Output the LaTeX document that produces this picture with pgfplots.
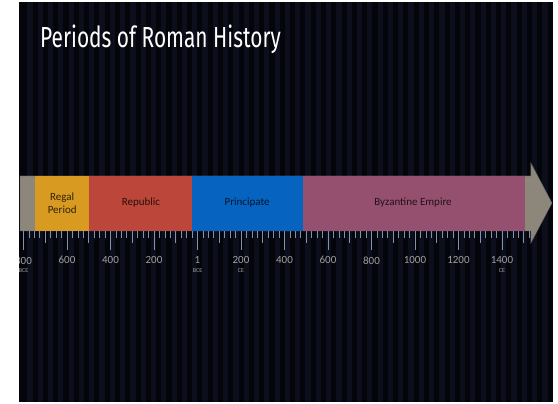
\documentclass[border=0pt]{standalone}
\usepackage{pgfplots}
\pgfplotsset{compat=1.18}
\usepackage{fontspec}
\setmainfont{Carlito}
\newfontfamily\titlefont[FakeStretch=0.72]{Fira Sans}
\definecolor{bgbase}{HTML}{04050A}
\definecolor{bgstripe}{HTML}{0C0F1B}
\definecolor{regal}{HTML}{D99A22}
\definecolor{republic}{HTML}{BC463A}
\definecolor{principate}{HTML}{0763C0}
\definecolor{byzantine}{HTML}{96506F}
\definecolor{bandgray}{HTML}{8C877A}
\definecolor{tickc}{HTML}{7E93B2}
\definecolor{labc}{HTML}{A0A0A0}
\begin{document}
\begin{tikzpicture}[x=1pt,y=1pt]
\fill[white] (0,0) rectangle (558,404);
\fill[bgbase] (18,2) rectangle (553,402);
\foreach \i in {0,...,50}{\fill[bgstripe] ({27.3+10.3*\i},2) rectangle ({32.5+10.3*\i},402);}
\begin{axis}[
  at={(0,173)}, anchor=south west,
  width=558pt, height=231pt, scale only axis,
  xmin=-908, xmax=1657.5, ymin=173, ymax=404,
  clip=false,
  axis x line*=bottom, axis y line=none,
  x axis line style={draw=none},
  tick align=outside,
  xtick={-800,-600,...,1400},
  xticklabels={{800\\[-2.5pt]{\fontsize{6}{6}\selectfont BCE}},600,400,200,{1\\[-2.5pt]{\fontsize{6}{6}\selectfont BCE}},{200\\[-2.5pt]{\fontsize{6}{6}\selectfont CE}},400,600,800,1000,1200,{1400\\[-2.5pt]{\fontsize{6}{6}\selectfont CE}}},
  minor xtick={-825,-800,...,1525},
  extra x ticks={-700,-500,...,1500},
  extra x tick labels={},
  extra x tick style={major tick length=12pt},
  major tick length=19pt,
  minor tick length=7pt,
  tick style={color=tickc, line width=0.7pt},
  xticklabel style={font=\fontsize{11}{11}\selectfont, text=labc, align=center, anchor=north, yshift=-3pt},
]
\addplot[fill=bandgray, draw=black!65] coordinates {(-816,173) (1533,173) (1533,161) (1630,201) (1533,241) (1533,228) (-816,228)} --cycle;
\addplot[fill=regal, draw=none] coordinates {(-745,173) (-500,173) (-500,228) (-745,228)} --cycle;
\addplot[fill=republic, draw=none] coordinates {(-500,173) (-27,173) (-27,228) (-500,228)} --cycle;
\addplot[fill=principate, draw=none] coordinates {(-27,173) (485,173) (485,228) (-27,228)} --cycle;
\addplot[fill=byzantine, draw=none] coordinates {(485,173) (1506,173) (1506,228) (485,228)} --cycle;
\node[align=center, font=\fontsize{11}{12.5}\selectfont, text=regal!22!black] at (axis cs:-622,201) {Regal\\Period};
\node[font=\fontsize{11}{12}\selectfont, text=republic!22!black] at (axis cs:-260,201) {Republic};
\node[font=\fontsize{11}{12}\selectfont, text=principate!22!black] at (axis cs:228,201) {Principate};
\node[font=\fontsize{11}{12}\selectfont, text=byzantine!22!black] at (axis cs:991,201) {Byzantine Empire};
\end{axis}
\fill[white] (0,0) rectangle (18.5,404);
\node[anchor=base west, inner sep=0pt, text=white, font=\titlefont\fontsize{29}{30}\selectfont] at (40,356) {Periods of Roman History};
\end{tikzpicture}
\end{document}
